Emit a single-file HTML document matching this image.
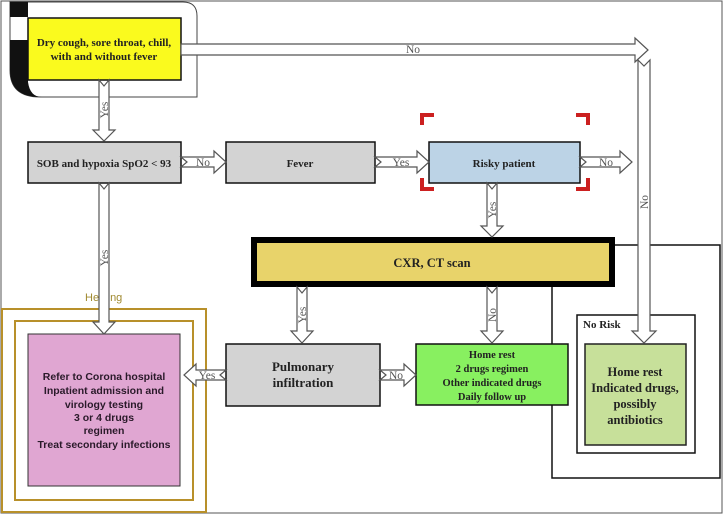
<!DOCTYPE html>
<html><head><meta charset="utf-8"><style>
html,body{margin:0;padding:0;background:#fff}
svg{display:block}
text{font-family:"Liberation Serif",serif;font-weight:bold;fill:#222}
.s{font-family:"Liberation Sans",sans-serif}
.a{fill:#fff;stroke:#555;stroke-width:1.2}
.l{font-size:11.5px;fill:#555;font-weight:normal}
</style></head><body>
<svg width="723" height="514" viewBox="0 0 723 514" xmlns="http://www.w3.org/2000/svg">
<rect x="1" y="1" width="721" height="512" fill="none" stroke="#555" stroke-width="1"/>
<path d="M10 2 H183 Q197 2 197 16 V97 H40 Q10 97 10 70 Z" fill="#fff" stroke="#444" stroke-width="1"/>
<rect x="10" y="2" width="18" height="15" fill="#111"/>
<path d="M10 40 H28 V82 Q30 97 42 97 H40 Q10 97 10 70 Z" fill="#111"/>
<rect x="552" y="245" width="168" height="233" fill="#fff" stroke="#111" stroke-width="1.5"/>
<rect x="2" y="309" width="204" height="203" fill="#fff" stroke="#b8902a" stroke-width="2"/>
<rect x="15" y="321" width="178" height="179" fill="#fff" stroke="#b8902a" stroke-width="2"/>
<text x="85" y="301" class="s" style="font-size:11px;font-weight:normal;fill:#a08a30">Healing</text>
<rect x="577" y="315" width="118" height="138" fill="#fff" stroke="#111" stroke-width="1.5"/>
<text x="583" y="328" style="font-size:11px">No Risk</text>
<rect x="585" y="344" width="101" height="101" fill="#c7e09a" stroke="#222" stroke-width="1.5"/>
<text text-anchor="middle" style="font-size:12.5px"><tspan x="635" y="376">Home rest</tspan><tspan x="635" y="392">Indicated drugs,</tspan><tspan x="635" y="408">possibly</tspan><tspan x="635" y="424">antibiotics</tspan></text>
<rect x="28" y="18" width="153" height="62" fill="#fafa1e" stroke="#111" stroke-width="1.5"/>
<text text-anchor="middle" style="font-size:11px"><tspan x="104" y="46">Dry cough, sore throat, chill,</tspan><tspan x="104" y="60">with and without fever</tspan></text>
<rect x="28" y="142" width="153" height="41" fill="#d3d3d3" stroke="#111" stroke-width="1.5"/>
<text x="104" y="167" text-anchor="middle" style="font-size:11px">SOB and hypoxia SpO2 &lt; 93</text>
<rect x="226" y="142" width="149" height="41" fill="#d3d3d3" stroke="#111" stroke-width="1.5"/>
<text x="300" y="167" text-anchor="middle" style="font-size:11px">Fever</text>
<rect x="429" y="142" width="151" height="41" fill="#bcd3e6" stroke="#111" stroke-width="1.5"/>
<text x="504" y="167" text-anchor="middle" style="font-size:11px">Risky patient</text>
<g fill="none" stroke="#cc2020" stroke-width="4">
<path d="M422 125 V115 H434"/><path d="M576 115 H588 V125"/><path d="M422 178 V189 H434"/><path d="M576 189 H588 V178"/>
</g>
<rect x="254" y="240" width="358" height="44" fill="#e8d36a" stroke="#000" stroke-width="6"/>
<text x="432" y="267" text-anchor="middle" style="font-size:12.5px">CXR, CT scan</text>
<rect x="226" y="344" width="154" height="62" fill="#d3d3d3" stroke="#111" stroke-width="1.5"/>
<text text-anchor="middle" style="font-size:13px"><tspan x="303" y="371">Pulmonary</tspan><tspan x="303" y="387">infiltration</tspan></text>
<rect x="416" y="344" width="152" height="61" fill="#88f060" stroke="#111" stroke-width="1.5"/>
<text text-anchor="middle" style="font-size:10.5px"><tspan x="492" y="358">Home rest</tspan><tspan x="492" y="372">2 drugs regimen</tspan><tspan x="492" y="386">Other indicated drugs</tspan><tspan x="492" y="400">Daily follow up</tspan></text>
<rect x="28" y="334" width="152" height="152" fill="#e0a6d2" stroke="#333" stroke-width="1"/>
<text text-anchor="middle" class="s" style="font-size:10.5px;fill:#2a1a2a"><tspan x="104" y="380">Refer to Corona hospital</tspan><tspan x="104" y="394">Inpatient admission and</tspan><tspan x="104" y="408">virology testing</tspan><tspan x="104" y="421">3 or 4 drugs</tspan><tspan x="104" y="434">regimen</tspan><tspan x="104" y="448">Treat secondary infections</tspan></text>
<polygon class="a" points="181,44 635,44 635,38 648,50 635,62 635,55 181,55"/>
<text x="413" y="53" class="l" text-anchor="middle">No</text>
<polygon class="a" points="638,60 644,66 650,60 650,331 656,331 644,343 632,331 638,331"/>
<text class="l" transform="translate(648,202) rotate(-90)" text-anchor="middle">No</text>
<polygon class="a" points="99,80 104,86 109,80 109,130 115,130 104,141 93,130 99,130"/>
<text class="l" transform="translate(108,110) rotate(-90)" text-anchor="middle">Yes</text>
<polygon class="a" points="99,183 104,189 109,183 109,322 115,322 104,334 93,322 99,322"/>
<text class="l" transform="translate(108,258) rotate(-90)" text-anchor="middle">Yes</text>
<polygon class="a" points="181,157 187,162 181,167 214,167 214,173 226,162 214,151 214,157"/>
<text x="203" y="166" class="l" text-anchor="middle">No</text>
<polygon class="a" points="375,157 381,162 375,167 417,167 417,173 429,162 417,151 417,157"/>
<text x="401" y="166" class="l" text-anchor="middle">Yes</text>
<polygon class="a" points="580,157 586,162 580,167 620,167 620,173 632,162 620,151 620,157"/>
<text x="606" y="166" class="l" text-anchor="middle">No</text>
<polygon class="a" points="487,183 492,189 497,183 497,226 503,226 492,237 481,226 487,226"/>
<text class="l" transform="translate(496,210) rotate(-90)" text-anchor="middle">Yes</text>
<polygon class="a" points="297,287 302,293 307,287 307,331 313,331 302,343 291,331 297,331"/>
<text class="l" transform="translate(306,315) rotate(-90)" text-anchor="middle">Yes</text>
<polygon class="a" points="487,287 492,293 497,287 497,331 503,331 492,343 481,331 487,331"/>
<text class="l" transform="translate(496,315) rotate(-90)" text-anchor="middle">No</text>
<polygon class="a" points="226,370 220,375 226,380 196,380 196,386 184,375 196,364 196,370"/>
<text x="207" y="379" class="l" text-anchor="middle">Yes</text>
<polygon class="a" points="380,370 386,375 380,380 404,380 404,386 416,375 404,364 404,370"/>
<text x="396" y="379" class="l" text-anchor="middle">No</text>
</svg>
</body></html>
